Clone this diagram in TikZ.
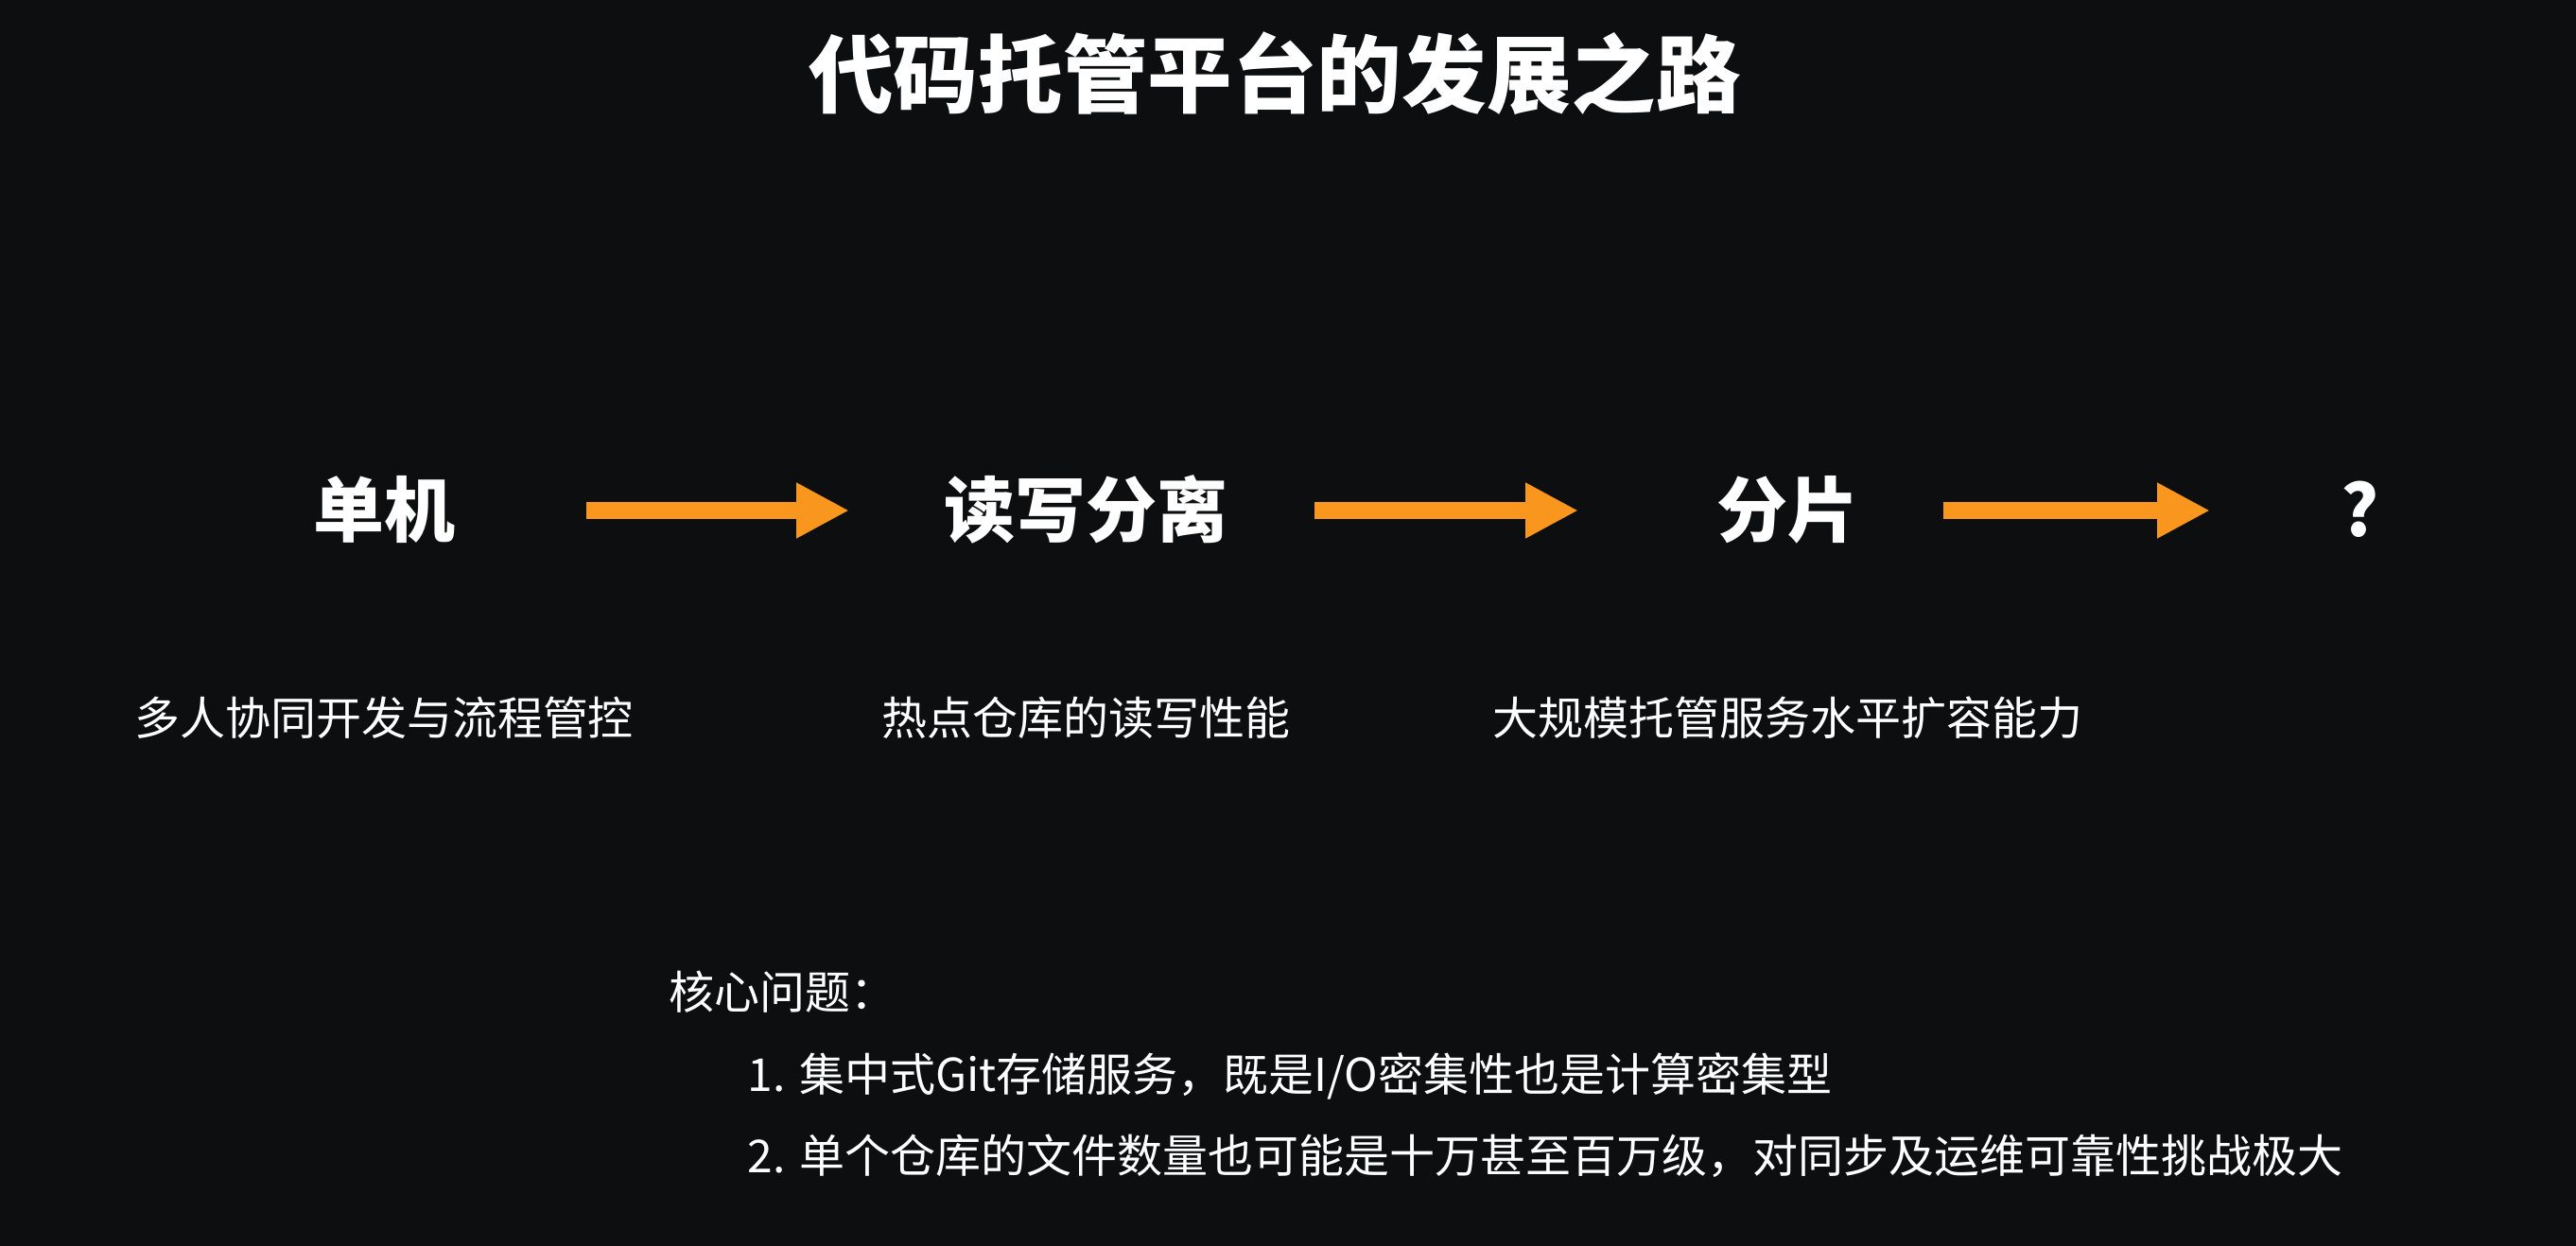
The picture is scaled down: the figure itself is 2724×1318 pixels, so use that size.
\documentclass[tikz,border=0pt]{standalone}
\usepackage{fontspec}
\setmainfont{Noto Sans CJK SC}
\usetikzlibrary{arrows.meta}
\definecolor{CBgDark}{HTML}{0D0E10}
\definecolor{COrange}{HTML}{F8961E}

\begin{document}
\begin{tikzpicture}[
    x=0.25pt, y=-0.25pt,
    title/.style={text=white, font=\bfseries\fontsize{22.4pt}{26pt}\selectfont, inner sep=0pt},
    stage/.style={text=white, font=\bfseries\fontsize{18.75pt}{22pt}\selectfont, inner sep=0pt},
    goal/.style={text=white, font=\fontsize{12pt}{14pt}\selectfont, inner sep=0pt},
    note/.style={text=white, font=\fontsize{12pt}{14pt}\selectfont, inner sep=0pt, anchor=west},
    flow/.style={draw=COrange, line width=4.5pt, -{Triangle[length=14pt, width=13.75pt]}}
]
  \fill[CBgDark] (0,0) rectangle (2724,1318);
  \node[title] (head) at (1348,78) {代码托管平台的发展之路};
  % stages
  \node[stage] (single) at (406,539) {单机};
  \node[stage] (rwsplit) at (1148,539) {读写分离};
  \node[stage] (shard) at (1890,539) {分片};
  \node[stage] (next) at (2496,539) {?};
  \node[goal] (g1) at (406,759) {多人协同开发与流程管控};
  \node[goal] (g2) at (1148,759) {热点仓库的读写性能};
  \node[goal] (g3) at (1890,759) {大规模托管服务水平扩容能力};
  % arrows
  \coordinate (a1s) at (620,540); \coordinate (a1e) at (898,540);
  \coordinate (a2s) at (1390,540); \coordinate (a2e) at (1669,540);
  \coordinate (a3s) at (2055,540); \coordinate (a3e) at (2337,540);
  \draw[flow] (a1s) -- (a1e);
  \draw[flow] (a2s) -- (a2e);
  \draw[flow] (a3s) -- (a3e);
  % core issues
  \node[note] (core) at (707,1049) {核心问题：};
  \node[note] (item1) at (790,1138) {1. 集中式Git存储服务，既是I/O密集性也是计算密集型};
  \node[note] (item2) at (790,1223) {2. 单个仓库的文件数量也可能是十万甚至百万级，对同步及运维可靠性挑战极大};
\end{tikzpicture}
\end{document}
